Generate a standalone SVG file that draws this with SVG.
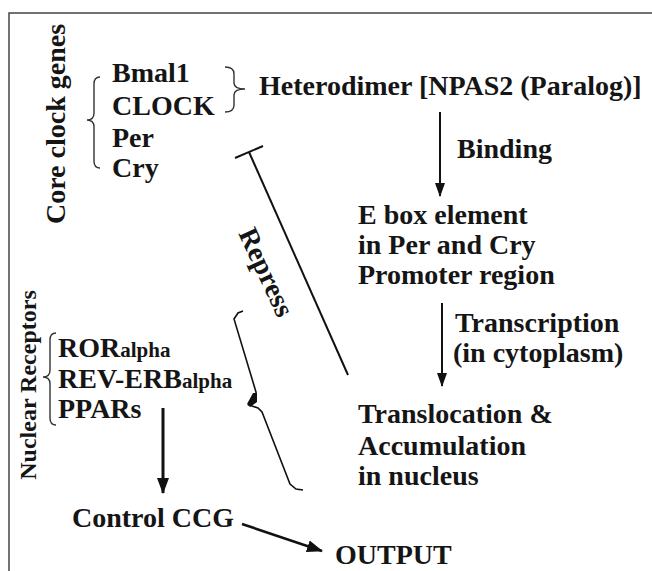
<svg xmlns="http://www.w3.org/2000/svg" width="652" height="571" viewBox="0 0 652 571">
<style>
text{font-family:"Liberation Serif","Times New Roman",serif;font-weight:bold;fill:#151515;}
.t{font-size:28px;}
.s{font-size:21px;}
.br{fill:none;stroke:#333;stroke-width:1.4;}
.ln{fill:none;stroke:#111;stroke-width:2;}
</style>
<defs>
<marker id="arr" markerUnits="userSpaceOnUse" markerWidth="14" markerHeight="10" refX="13" refY="5" orient="auto">
<path d="M0,0 L14,5 L0,10 z" fill="#111"/>
</marker>
<marker id="arrB" markerUnits="userSpaceOnUse" markerWidth="16" markerHeight="12" refX="15" refY="6" orient="auto">
<path d="M0,0 L16,6 L0,12 z" fill="#111"/>
</marker>
</defs>
<rect width="652" height="571" fill="#fff"/>
<path d="M652,13 L9,13 L9,571" fill="none" stroke="#444" stroke-width="1.5"/>

<g id="core-label"><text class="t" transform="translate(65,124) rotate(-90)" text-anchor="middle">Core clock genes</text></g>
<g id="core-brace"><path class="br" d="M100,77 Q94,77 94,84 L94,113 Q94,120 87,120 Q94,120 94,127 L94,161 Q94,168 100,168"/></g>
<g id="bmal1"><text class="t" x="112" y="82">Bmal1</text></g>
<g id="clock"><text class="t" x="112" y="115">CLOCK</text></g>
<g id="per"><text class="t" x="112" y="147">Per</text></g>
<g id="cry"><text class="t" x="112" y="177">Cry</text></g>
<g id="dimer-brace"><path class="br" d="M225,67 Q234,67 234,74 L234,83 Q234,89 245,89 Q234,89 234,95 L234,105 Q234,112 225,112"/></g>
<g id="heterodimer"><text class="t" x="259" y="95">Heterodimer [NPAS2 (Paralog)]</text></g>
<g id="binding"><text class="t" x="457" y="158">Binding</text></g>
<g id="ebox"><text class="t" x="358" y="224">E box element</text><text class="t" x="358" y="254">in Per and Cry</text><text class="t" x="358" y="284">Promoter region</text></g>
<g id="transcription"><text class="t" x="455" y="332">Transcription</text><text class="t" x="453" y="362">(in cytoplasm)</text></g>
<g id="translocation"><text class="t" x="358" y="423">Translocation &amp;</text><text class="t" x="358" y="455">Accumulation</text><text class="t" x="358" y="485">in nucleus</text></g>
<g id="repress-label"><text class="t" transform="translate(258,276) rotate(65)" text-anchor="middle">Repress</text></g>
<g id="nr-label"><text transform="translate(36,385) rotate(-90)" text-anchor="middle" font-size="24">Nuclear Receptors</text></g>
<g id="nr-brace"><path class="br" d="M56,333 Q50,333 50,340 L50,370 Q50,377 43,377 Q50,377 50,384 L50,418 Q50,425 56,425"/></g>
<g id="ror"><text class="t" x="58" y="357">ROR<tspan class="s">alpha</tspan></text></g>
<g id="reverb"><text class="t" x="58" y="388">REV-ERB<tspan class="s">alpha</tspan></text></g>
<g id="ppars"><text class="t" x="58" y="418">PPARs</text></g>
<g id="control"><text class="t" x="72" y="527">Control CCG</text></g>
<g id="output"><text class="t" x="335" y="564">OUTPUT</text></g>
<g id="connectors">
<path class="ln" d="M440,112 L440,196" marker-end="url(#arr)"/>
<path class="ln" d="M442,303 L442,386" marker-end="url(#arr)"/>
<path class="ln" d="M249,152 L348,375"/>
<path class="ln" d="M235,158 L263,146"/>
<path class="ln" style="stroke-width:3" d="M163,408 L163,493" marker-end="url(#arrB)"/>
<path class="ln" style="stroke-width:2.6" d="M242,524 L322,551" marker-end="url(#arrB)"/>
<path fill="none" stroke="#111" stroke-width="1.6" d="M243,311 L238,313 L234,319 L256,392 L256,399 L249,405 L258,408 L262,412 L290,484 L296,489 L303,490"/>
<path fill="#111" d="M253,393 L257,393 L257,402 L250,407 L247,404 Z"/>
</g>
</svg>
